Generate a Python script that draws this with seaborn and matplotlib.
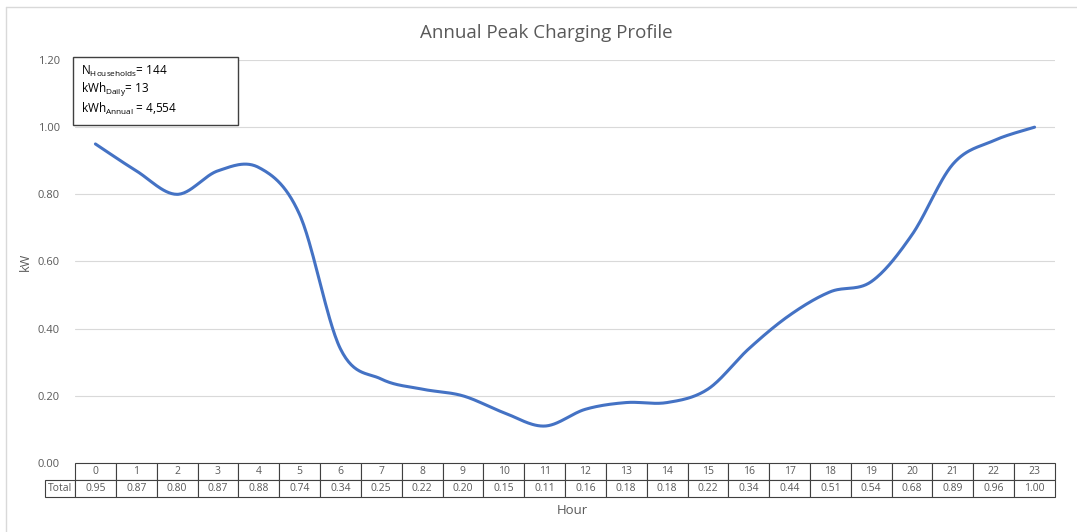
import numpy as np
import pandas as pd
import matplotlib
matplotlib.use('Agg')
import matplotlib.pyplot as plt
import seaborn as sns
from matplotlib.patches import Rectangle
from matplotlib.lines import Line2D

# ── Data ──────────────────────────────────────────────────────────────────
hours = list(range(24))
total_kw = [0.95, 0.87, 0.80, 0.87, 0.88, 0.74, 0.34, 0.25, 0.22, 0.20, 0.15, 0.11,
            0.16, 0.18, 0.18, 0.22, 0.34, 0.44, 0.51, 0.54, 0.68, 0.89, 0.96, 1.00]
n_households = 144
kwh_daily = 13
kwh_annual = "4,554"

sns.set_style("white")
plt.rcParams['font.family'] = ['Open Sans', 'DejaVu Sans']
plt.rcParams['mathtext.fontset'] = 'custom'
plt.rcParams['mathtext.rm'] = 'Open Sans'
plt.rcParams['mathtext.it'] = 'Open Sans'

GREY = "#595959"
LINE = "#4472C4"
W, H = 1077, 532


def smooth_curve(x, y, steps=30):
    # Catmull-Rom style smoothing, like a spreadsheet "smoothed line"
    x = np.asarray(x, float)
    y = np.asarray(y, float)
    px = np.concatenate([[x[0]], x, [x[-1]]])
    py = np.concatenate([[y[0]], y, [y[-1]]])
    xs, ys = [], []
    t = np.linspace(0, 1, steps, endpoint=False)
    for i in range(1, len(px) - 2):
        p0, p1, p2, p3 = (np.array([px[j], py[j]]) for j in range(i - 1, i + 3))
        c1 = p1 + (p2 - p0) / 6
        c2 = p2 - (p3 - p1) / 6
        b = ((1 - t) ** 3)[:, None] * p1 + (3 * (1 - t) ** 2 * t)[:, None] * c1 \
            + (3 * (1 - t) * t ** 2)[:, None] * c2 + (t ** 3)[:, None] * p2
        xs.extend(b[:, 0]); ys.extend(b[:, 1])
    xs.append(x[-1]); ys.append(y[-1])
    return np.array(xs), np.array(ys)


sx, sy = smooth_curve(hours, total_kw)
curve = pd.DataFrame({"hour": sx, "kw": sy})

fig = plt.figure(figsize=(W / 100, H / 100), dpi=100)
# chart-area border (top and left edges only are visible)
fig.lines.append(Line2D([6 / W, 1], [1 - 7 / H, 1 - 7 / H], transform=fig.transFigure,
                        color="#D9D9D9", linewidth=1))
fig.lines.append(Line2D([6 / W, 6 / W], [0, 1 - 7 / H], transform=fig.transFigure,
                        color="#D9D9D9", linewidth=1))

ax = fig.add_axes([75 / W, 1 - 463 / H, 980 / W, 403 / H])

sns.lineplot(data=curve, x="hour", y="kw", sort=False, color=LINE, linewidth=2.2, ax=ax)

ax.set_xlim(-0.5, 23.5)
ax.set_ylim(0, 1.2)
ax.set_yticks(np.arange(0, 1.21, 0.2))
ax.set_yticklabels([f"{v:.2f}" for v in np.arange(0, 1.21, 0.2)], fontsize=8, color=GREY)
ax.tick_params(axis='y', length=0, pad=11)
ax.set_xticks([])
ax.grid(axis='y', color="#D9D9D9", linewidth=0.8)
for s in ax.spines.values():
    s.set_visible(False)

ax.set_ylabel("kW", fontsize=9, color=GREY)
ax.yaxis.set_label_coords(-43 / 980, 0.5)
ax.set_xlabel("Hour", fontsize=9.5, color=GREY)
ax.xaxis.set_label_coords(0.508, -41 / 403)
fig.text(546 / W, 1 - 33 / H, "Annual Peak Charging Profile", fontsize=13.5, color=GREY,
         ha='center', va='center')

# data table under the axis
lab_w = 30 / 980
tbl = ax.table(cellText=[[f"{v:.2f}" for v in total_kw]],
               rowLabels=["Total"], colLabels=[str(h) for h in hours],
               colWidths=[1 / 24] * 24,
               cellLoc='center', rowLoc='center',
               bbox=[0, -34 / 403, 1, 34 / 403])
tbl.auto_set_font_size(False)
tbl._autoColumns = []
cells = tbl.get_celld()
cells[(1, -1)].set_width(lab_w)
for (r, c), cell in cells.items():
    cell.set_edgecolor("#404040")
    cell.set_linewidth(0.8)
    cell.get_text().set_fontsize(7.5)
    cell.get_text().set_color(GREY)

# info box
box_l, box_t, box_w, box_h = 73, 57, 165, 68
fig.patches.append(Rectangle((box_l / W, 1 - (box_t + box_h) / H), box_w / W, box_h / H,
                             transform=fig.transFigure, fill=True, facecolor="white",
                             edgecolor="#404040", linewidth=1, zorder=5))
info = (r"N$_{\mathrm{Households}}$= " + f"{n_households}\n"
        r"kWh$_{\mathrm{Daily}}$= " + f"{kwh_daily}\n"
        r"kWh$_{\mathrm{Annual}}$ = " + kwh_annual)
fig.text((box_l + 8) / W, 1 - (box_t + 7) / H, info, fontsize=8.5, color="black",
         va='top', ha='left', linespacing=1.15, zorder=6)

fig.savefig("out.png", dpi=100)
